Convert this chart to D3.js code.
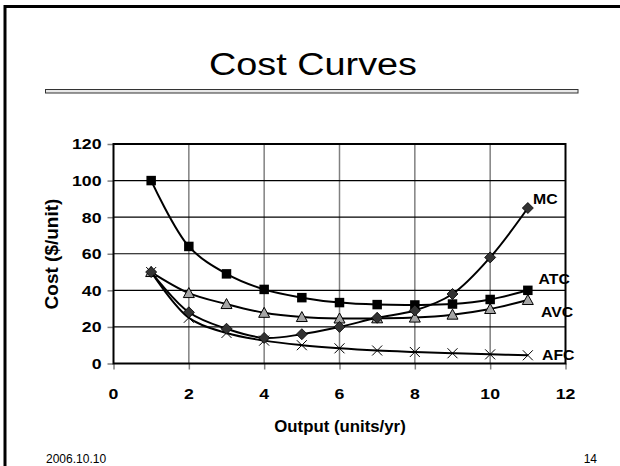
<!DOCTYPE html>
<html>
<head>
<meta charset="utf-8">
<script src="https://cdn.jsdelivr.net/npm/d3@7"></script>
<style>
  body { margin: 0; background: #fff; }
  svg { display: block; }
</style>
</head>
<body>
<svg id="slide"></svg>
<script>
var width = 620, height = 466;

// data
var output = [1, 2, 3, 4, 5, 6, 7, 8, 9, 10, 11];
var mc  = [50, 28, 19, 14, 16, 20, 25, 29, 38, 58, 85];
var atc = [100, 64, 49, 40.5, 36, 33.3, 32.2, 32, 32.5, 35, 40];
var avc = [50, 38.5, 32.5, 27.7, 25.4, 24.6, 24.7, 25.1, 26.7, 29.8, 34.7];
var afc = [50, 25, 16.7, 12.5, 10, 8.3, 7.1, 6.3, 5.6, 5, 4.5];
var xTicks = [0, 2, 4, 6, 8, 10, 12];
var yTicks = [0, 20, 40, 60, 80, 100, 120];

var labFont = "'Liberation Sans', Arial, sans-serif";
var stretch = 1.18; // slide text is drawn a bit wider than normal

var svg = d3.select("#slide")
    .attr("width", width)
    .attr("height", height);

// slide frame (top + left rule)
svg.append("path")
    .attr("d", "M5,466 V6.5 H620")
    .attr("fill", "none")
    .attr("stroke", "#000")
    .attr("stroke-width", 3);

// title
svg.append("text")
    .attr("x", 209)
    .attr("y", 75)
    .attr("textLength", 208)
    .attr("lengthAdjust", "spacingAndGlyphs")
    .style("font-family", labFont)
    .style("font-size", "31px")
    .text("Cost Curves");

svg.append("rect")
    .attr("x", 45.5).attr("y", 89.5)
    .attr("width", 532.5).attr("height", 3.5)
    .attr("fill", "#e8e8e8")
    .attr("stroke", "#333")
    .attr("stroke-width", 1);

// plot area
var x = d3.scaleLinear().domain([0, 12]).range([113.5, 565.5]);
var y = d3.scaleLinear().domain([0, 120]).range([363.5, 144]);

var g = svg.append("g");

// vertical grid (grey)
g.selectAll(".vgrid")
  .data(xTicks.slice(1, -1))
  .enter().append("line")
    .attr("x1", d => x(d)).attr("x2", d => x(d))
    .attr("y1", y(120)).attr("y2", y(0))
    .attr("stroke", "#808080")
    .attr("stroke-width", 1.5);

// horizontal grid (black)
g.selectAll(".hgrid")
  .data(yTicks.slice(1, -1))
  .enter().append("line")
    .attr("x1", x(0)).attr("x2", x(12))
    .attr("y1", d => y(d)).attr("y2", d => y(d))
    .attr("stroke", "#000")
    .attr("stroke-width", 1.2);

// axes with grey ticks
var xAxis = g.append("g")
    .attr("transform", "translate(0," + y(0) + ")")
    .call(d3.axisBottom(x).tickValues(xTicks).tickSize(6).tickFormat(""));
var yAxis = g.append("g")
    .attr("transform", "translate(" + x(0) + ",0)")
    .call(d3.axisLeft(y).tickValues(yTicks).tickSize(6).tickFormat(""));
[xAxis, yAxis].forEach(function(a) {
  a.select(".domain").remove();
  a.selectAll("line").attr("stroke", "#808080").attr("stroke-width", 1.5);
});

// frame
g.append("rect")
    .attr("x", x(0)).attr("y", y(120))
    .attr("width", x(12) - x(0)).attr("height", y(0) - y(120))
    .attr("fill", "none")
    .attr("stroke", "#000")
    .attr("stroke-width", 2);

// tick labels (widened a little like the slide)
g.selectAll(".xl")
  .data(xTicks)
  .enter().append("text")
    .attr("transform", d => "translate(" + x(d) + ",399) scale(" + stretch + ",1)")
    .attr("text-anchor", "middle")
    .style("font-family", labFont)
    .style("font-weight", "bold")
    .style("font-size", "15px")
    .text(d => d);

g.selectAll(".yl")
  .data(yTicks)
  .enter().append("text")
    .attr("transform", d => "translate(101.5," + (y(d) + 5.4) + ") scale(" + stretch + ",1)")
    .attr("text-anchor", "end")
    .style("font-family", labFont)
    .style("font-weight", "bold")
    .style("font-size", "15px")
    .text(d => d);

// axis titles
svg.append("text")
    .attr("transform", "translate(340,431.5) scale(1.05,1)")
    .attr("text-anchor", "middle")
    .style("font-family", labFont)
    .style("font-weight", "bold")
    .style("font-size", "16px")
    .text("Output (units/yr)");

svg.append("text")
    .attr("transform", "translate(57.5,254) rotate(-90)")
    .attr("text-anchor", "middle")
    .style("font-family", labFont)
    .style("font-weight", "bold")
    .style("font-size", "19px")
    .text("Cost ($/unit)");

// series
var line = d3.line()
    .x(d => x(d[0]))
    .y(d => y(d[1]))
    .curve(d3.curveCatmullRom.alpha(0.5));

var series = [
  { name: "AFC", values: afc, marker: "cross" },
  { name: "AVC", values: avc, marker: "triangle" },
  { name: "ATC", values: atc, marker: "square" },
  { name: "MC",  values: mc,  marker: "diamond" }
];

series.forEach(function(s) {
  var pts = output.map((o, i) => [o, s.values[i]]);
  g.append("path")
      .datum(pts)
      .attr("fill", "none")
      .attr("stroke", "#000")
      .attr("stroke-width", 2)
      .attr("d", line);

  var m = g.append("g").selectAll("path")
    .data(pts)
    .enter().append("path")
      .attr("transform", d => "translate(" + x(d[0]) + "," + y(d[1]) + ")");

  if (s.marker == "square") {
    m.attr("d", d3.symbol().type(d3.symbolSquare).size(90))
     .attr("fill", "#000");
  } else if (s.marker == "triangle") {
    m.attr("d", "M0,-5.5 L5.5,4.5 L-5.5,4.5 Z")
     .attr("fill", "#a6a6a6").attr("stroke", "#000").attr("stroke-width", 1);
  } else if (s.marker == "diamond") {
    m.attr("d", "M0,-5.5 L5.5,0 L0,5.5 L-5.5,0 Z")
     .attr("fill", "#333").attr("stroke", "#000").attr("stroke-width", 0.8);
  } else {
    m.attr("d", "M-5,-5 L5,5 M-5,5 L5,-5")
     .attr("fill", "none").attr("stroke", "#000").attr("stroke-width", 1);
  }
});

// series labels
var labels = [
  { text: "MC",  x: 533, y: 203.5 },
  { text: "ATC", x: 538.5, y: 283.5 },
  { text: "AVC", x: 541, y: 316.5 },
  { text: "AFC", x: 542, y: 360 }
];
svg.selectAll(".sl")
  .data(labels)
  .enter().append("text")
    .attr("transform", d => "translate(" + d.x + "," + d.y + ") scale(1.13,1)")
    .style("font-family", labFont)
    .style("font-weight", "bold")
    .style("font-size", "14px")
    .text(d => d.text);

// footer
svg.append("text")
    .attr("x", 46).attr("y", 463)
    .style("font-family", labFont)
    .style("font-size", "12px")
    .text("2006.10.10");
svg.append("text")
    .attr("x", 597).attr("y", 463)
    .attr("text-anchor", "end")
    .style("font-family", labFont)
    .style("font-size", "12px")
    .text("14");
</script>
</body>
</html>
